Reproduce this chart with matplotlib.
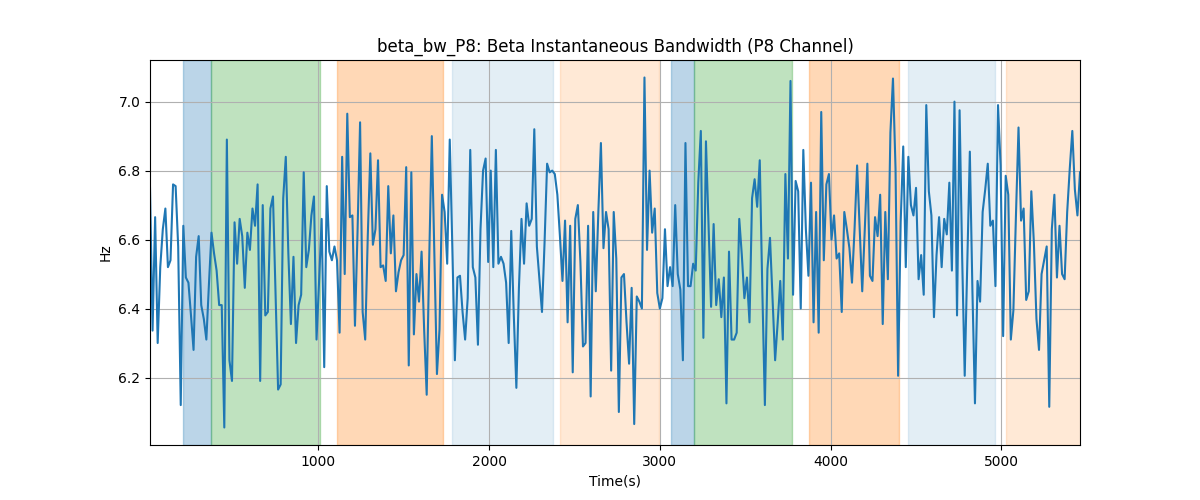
import numpy as np
import matplotlib
matplotlib.use("Agg")
import matplotlib.pyplot as plt

# sample spacing: one point every 15 s, first at 15 s
t_start = 15
t_step = 15

# beta bandwidth values (Hz)
bw = [
    6.75, 6.336, 6.665, 6.30, 6.52, 6.63, 6.69, 6.52, 6.54, 6.76,
    6.755, 6.58, 6.12, 6.64, 6.49, 6.475, 6.38, 6.28, 6.55, 6.61,
    6.41, 6.37, 6.31, 6.47, 6.62, 6.56, 6.51, 6.41, 6.41, 6.055,
    6.89, 6.25, 6.19, 6.65, 6.53, 6.66, 6.61, 6.46, 6.62, 6.57,
    6.69, 6.64, 6.76, 6.19, 6.70, 6.38, 6.39, 6.69, 6.725, 6.45,
    6.165, 6.18, 6.72, 6.84, 6.56, 6.355, 6.55, 6.30, 6.41, 6.44,
    6.795, 6.52, 6.57, 6.67, 6.725, 6.31, 6.48, 6.66, 6.23, 6.755,
    6.565, 6.54, 6.58, 6.54, 6.33, 6.84, 6.50, 6.965, 6.665, 6.67,
    6.35, 6.62, 6.94, 6.39, 6.31, 6.61, 6.85, 6.585, 6.63, 6.83,
    6.52, 6.525, 6.48, 6.755, 6.56, 6.67, 6.45, 6.505, 6.54, 6.555,
    6.81, 6.235, 6.795, 6.325, 6.50, 6.42, 6.565, 6.34, 6.15, 6.55,
    6.90, 6.55, 6.21, 6.34, 6.73, 6.68, 6.53, 6.89, 6.58, 6.25,
    6.49, 6.495, 6.39, 6.31, 6.43, 6.86, 6.52, 6.49, 6.295, 6.63,
    6.80, 6.835, 6.535, 6.80, 6.52, 6.86, 6.53, 6.55, 6.53, 6.475,
    6.30, 6.625, 6.38, 6.17, 6.46, 6.66, 6.53, 6.705, 6.64, 6.66,
    6.92, 6.58, 6.485, 6.39, 6.59, 6.82, 6.795, 6.80, 6.79, 6.73,
    6.61, 6.48, 6.655, 6.36, 6.64, 6.215, 6.66, 6.70, 6.535, 6.29,
    6.30, 6.64, 6.145, 6.68, 6.45, 6.68, 6.88, 6.575, 6.68, 6.63,
    6.22, 6.68, 6.545, 6.10, 6.49, 6.50, 6.36, 6.24, 6.46, 6.065,
    6.435, 6.42, 6.40, 7.07, 6.57, 6.80, 6.62, 6.69, 6.445, 6.40,
    6.43, 6.63, 6.465, 6.52, 6.465, 6.70, 6.50, 6.455, 6.25, 6.88,
    6.465, 6.465, 6.53, 6.51, 6.765, 6.915, 6.315, 6.885, 6.65, 6.405,
    6.645, 6.41, 6.485, 6.375, 6.49, 6.125, 6.565, 6.31, 6.31, 6.33,
    6.66, 6.555, 6.43, 6.49, 6.36, 6.72, 6.775, 6.695, 6.83, 6.455,
    6.12, 6.515, 6.605, 6.43, 6.25, 6.36, 6.48, 6.31, 6.79, 6.545,
    7.06, 6.44, 6.77, 6.74, 6.40, 6.86, 6.63, 6.495, 6.765, 6.36,
    6.68, 6.33, 6.97, 6.54, 6.76, 6.79, 6.60, 6.67, 6.545, 6.56,
    6.39, 6.68, 6.63, 6.575, 6.475, 6.63, 6.815, 6.63, 6.45, 6.63,
    6.82, 6.495, 6.48, 6.665, 6.61, 6.73, 6.355, 6.68, 6.485, 6.91,
    7.067, 6.805, 6.205, 6.65, 6.87, 6.52, 6.84, 6.70, 6.67, 6.75,
    6.485, 6.555, 6.44, 6.99, 6.74, 6.67, 6.375, 6.555, 6.665, 6.52,
    6.66, 6.615, 6.765, 6.51, 7.00, 6.38, 6.975, 6.55, 6.205, 6.535,
    6.855, 6.455, 6.125, 6.48, 6.42, 6.68, 6.745, 6.82, 6.64, 6.655,
    6.465, 6.99, 6.815, 6.32, 6.785, 6.73, 6.31, 6.395, 6.67, 6.925,
    6.655, 6.69, 6.425, 6.45, 6.74, 6.59, 6.37, 6.28, 6.50, 6.54,
    6.58, 6.115, 6.63, 6.73, 6.49, 6.64, 6.50, 6.485, 6.68, 6.805,
    6.915, 6.745, 6.67, 6.795,
]

# shaded segments: (start, end, colour, alpha)
seg_start = [207, 370, 1110, 1784, 2417, 3064, 3199, 3871, 4451, 5026]
seg_end = [370, 1012, 1730, 2374, 2998, 3199, 3775, 4403, 4961, 5470]
seg_color = ["tab:blue", "tab:green", "tab:orange", "tab:blue", "tab:orange",
             "tab:blue", "tab:green", "tab:orange", "tab:blue", "tab:orange"]
seg_alpha = [0.3, 0.3, 0.3, 0.12, 0.17, 0.3, 0.3, 0.3, 0.12, 0.17]

t = t_start + t_step * np.arange(len(bw))

fig, ax = plt.subplots(figsize=(12, 5), dpi=100)
for s, e, c, a in zip(seg_start, seg_end, seg_color, seg_alpha):
    ax.axvspan(s, e, color=c, alpha=a)
ax.plot(t, bw, color="tab:blue")
ax.set_xlim(t[0], t[-1])
ax.grid(True)
ax.set_title("beta_bw_P8: Beta Instantaneous Bandwidth (P8 Channel)")
ax.set_xlabel("Time(s)")
ax.set_ylabel("Hz")
plt.savefig("out.png")
